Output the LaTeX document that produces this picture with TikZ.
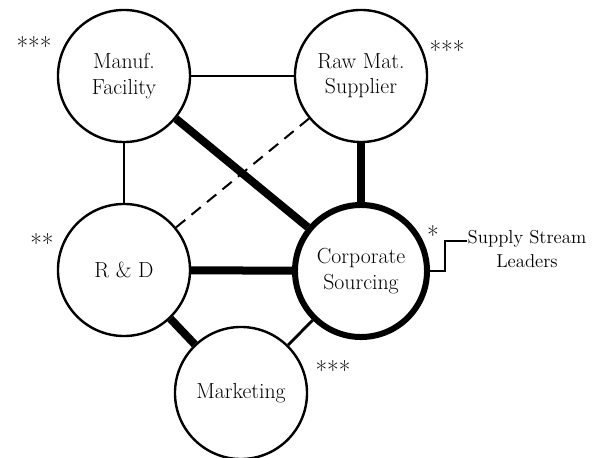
\documentclass[tikz,border=0pt]{standalone}
\usepackage{amsmath, amssymb}
\usepackage{tikz}

\begin{document}
\begin{tikzpicture}[x=0.025cm, y=-0.025cm]
    \useasboundingbox (0,0) rectangle (593,458);
    % Circles
    \foreach \name/\x/\y/\txt in {Manuf/124/76/{Manuf.\\Facility}, Raw/361/76/{Raw Mat.\\Supplier}, RD/124/270/{R \& D}, Market/241/393/{Marketing}} {
        \node[circle, minimum size = 33mm, inner sep=0pt, draw=black, line width=.6mm, align=center, font=\fontsize{15.5}{18}\selectfont] (\name) at (\x,\y) {\txt};
    }
    \node[circle, minimum size = 33mm, inner sep=0pt, draw=black, line width=1.5mm, align=center, font=\fontsize{15.5}{18}\selectfont] (Corp) at (361,271) {Corporate\\Sourcing};
    % Stars
    \foreach \i/\x/\y/\s in {1/34/46/{***}, 2/447/50/{***}, 3/42/243/{**}, 4/433/235/{*}, 5/333/370/{***}} {
        \node[inner sep=0pt, font=\fontsize{18}{20}\selectfont] (Star-\i) at (\x,\y) {\s};
    }
    % Links
    \foreach \a/\b in {Manuf/Raw, Manuf/RD, Corp/Market} {
        \draw[line width=.7mm] (\a) -- (\b);
    }
    \foreach \a/\b in {Manuf/Corp, Raw/Corp, RD/Corp, RD/Market} {
        \draw[line width=2mm] (\a) -- (\b);
    }
    \draw[line width=.5mm, dash pattern=on 3mm off 2mm] (RD) -- (Raw);
    % Leaders
    \node[align=center, inner sep=0pt, font=\fontsize{13.3}{17}\selectfont] (Lead) at (527,249) {Supply Stream\\Leaders};
    \coordinate (Elbow) at (445,241);
    \draw[line width=.35mm] (Corp.east) -| (Elbow) -- (Lead.west |- Elbow);
\end{tikzpicture}
\end{document}
